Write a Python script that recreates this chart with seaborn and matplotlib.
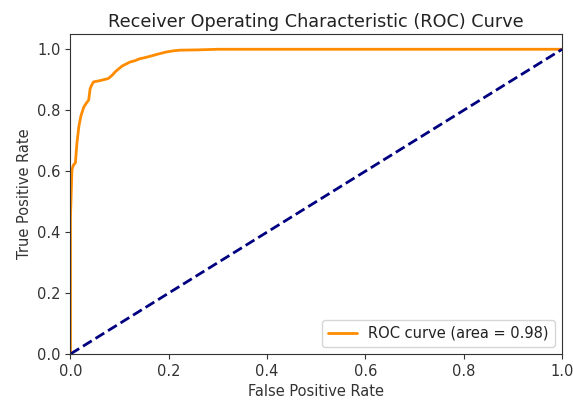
import matplotlib
matplotlib.use("Agg")
import matplotlib.pyplot as plt
import seaborn as sns
import pandas as pd

# ROC curve points (false positive rate, true positive rate)
fpr = [0.0, 0.0, 0.003, 0.006, 0.010, 0.013, 0.017, 0.021, 0.027, 0.033, 0.037,
       0.040, 0.044, 0.047, 0.060, 0.077, 0.085, 0.091, 0.105, 0.121, 0.132,
       0.141, 0.150, 0.162, 0.180, 0.195, 0.210, 0.222, 0.260, 0.300, 0.400,
       0.600, 0.800, 1.0]
tpr = [0.0, 0.45, 0.605, 0.620, 0.627, 0.690, 0.746, 0.780, 0.810, 0.825, 0.833,
       0.871, 0.885, 0.893, 0.897, 0.904, 0.915, 0.926, 0.945, 0.958, 0.963,
       0.969, 0.972, 0.977, 0.985, 0.991, 0.995, 0.997, 0.998, 1.0, 1.0,
       1.0, 1.0, 1.0]
roc_auc = 0.98

chance = [0.0, 1.0]

sns.set_style("ticks")
plt.rcParams["font.family"] = ["DejaVu Sans"]

fig = plt.figure(figsize=(5.73, 4.05), dpi=100)
ax = fig.add_axes([0.123, 0.126, 0.858, 0.790])

roc = pd.DataFrame({"fpr": fpr, "tpr": tpr})
sns.lineplot(data=roc, x="fpr", y="tpr", sort=False, estimator=None,
             color="darkorange", lw=2, ax=ax,
             label=f"ROC curve (area = {roc_auc:.2f})")
sns.lineplot(x=chance, y=chance, color="navy", lw=2, linestyle="--", ax=ax)

ax.set_xlim(0.0, 1.0)
ax.set_ylim(0.0, 1.05)
ax.set_xlabel("False Positive Rate", fontsize=10.5, color="#333333")
ax.set_ylabel("True Positive Rate", fontsize=10.5, color="#333333")
ax.set_title("Receiver Operating Characteristic (ROC) Curve", fontsize=12.7,
             color="#222222", pad=5)
ax.tick_params(labelsize=10.5, colors="#333333", labelcolor="#333333")
for s in ax.spines.values():
    s.set_color("#333333")
    s.set_linewidth(0.8)
ax.legend(loc="lower right", fontsize=10.5, labelcolor="#222222")

fig.savefig("out.png", dpi=100)
